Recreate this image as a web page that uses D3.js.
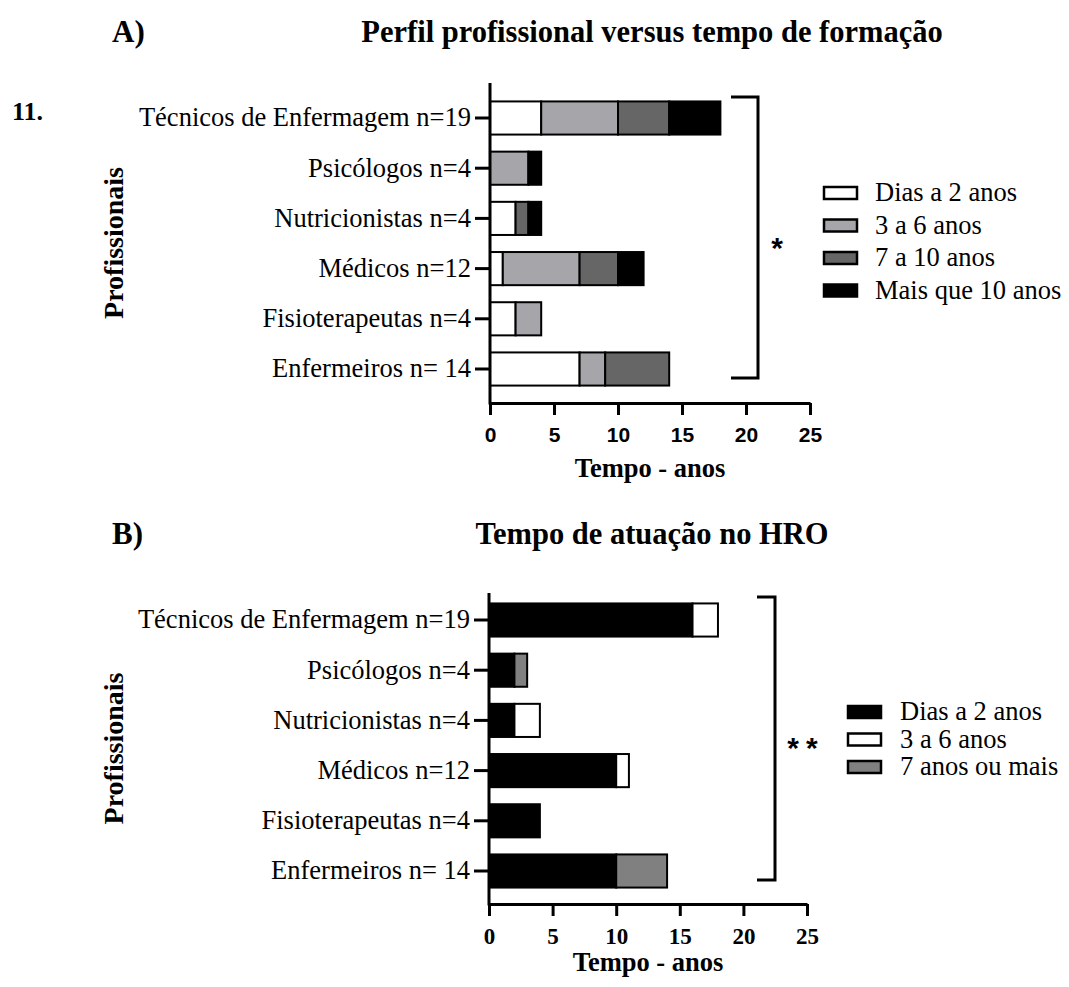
<!DOCTYPE html>
<html>
<head>
<meta charset="utf-8">
<script src="https://cdn.jsdelivr.net/npm/d3@7"></script>
<style>
  body { margin: 0; background: #fff; }
  text { fill: #000; }
</style>
</head>
<body>
<script>
  // categories (top to bottom)
  const categories = ["Técnicos de Enfermagem n=19", "Psicólogos n=4", "Nutricionistas n=4",
                      "Médicos n=12", "Fisioterapeutas n=4", "Enfermeiros n= 14"];
  const xTicks = [0, 5, 10, 15, 20, 25];

  // A) tempo de formação
  const formacaoKeys = ["Dias a 2 anos", "3 a 6 anos", "7 a 10 anos", "Mais que 10 anos"];
  const formacaoColors = ["#ffffff", "#a6a6aa", "#666666", "#000000"];
  const formacaoDias = [4, 0, 2, 1, 2, 7];
  const formacao3a6 = [6, 3, 0, 6, 2, 2];
  const formacao7a10 = [4, 0, 1, 3, 0, 5];
  const formacaoMais10 = [4, 1, 1, 2, 0, 0];

  // B) tempo de atuação no HRO
  const atuacaoKeys = ["Dias a 2 anos", "3 a 6 anos", "7 anos ou mais"];
  const atuacaoColors = ["#000000", "#ffffff", "#808080"];
  const atuacaoDias = [16, 2, 2, 10, 4, 10];
  const atuacao3a6 = [2, 0, 2, 1, 0, 0];
  const atuacao7 = [0, 1, 0, 0, 0, 4];

  const serif = "'Liberation Serif', 'Times New Roman', serif";
  const sans = "'Liberation Sans', Arial, sans-serif";

  const svg = d3.select('body').append('svg')
    .attr('width', 1069).attr('height', 987);

  function rows(keys, cols) {
    return categories.map((c, i) => {
      const r = {cat: c};
      keys.forEach((k, j) => r[k] = cols[j][i]);
      return r;
    });
  }

  function panel(p) {
    const g = svg.append('g');
    const x = d3.scaleLinear().domain([0, 25]).range([p.x0, p.x1]);
    const step = (p.cLast - p.cFirst) / (categories.length - 1);
    const y = d3.scaleBand().domain(categories)
      .range([p.cFirst - step / 2, p.cLast + step / 2])
      .paddingInner(0.34).paddingOuter(0.17);

    const stack = d3.stack().keys(p.keys)(rows(p.keys, p.cols));
    const color = d3.scaleOrdinal().domain(p.keys).range(p.colors);

    // bars
    g.selectAll('g.layer').data(stack).enter().append('g')
      .attr('class', 'layer')
      .attr('fill', d => color(d.key))
      .selectAll('rect').data(d => d.filter(s => s[1] > s[0])).enter().append('rect')
      .attr('x', d => x(d[0]))
      .attr('y', d => y(d.data.cat))
      .attr('width', d => x(d[1]) - x(d[0]))
      .attr('height', y.bandwidth())
      .attr('stroke', '#000')
      .attr('stroke-width', 2);

    // x axis
    const xa = g.append('g')
      .attr('transform', `translate(0,${p.axisY})`)
      .call(d3.axisBottom(x).tickValues(xTicks).tickSize(12).tickSizeOuter(0).tickPadding(12));
    xa.select('.domain').attr('stroke-width', 3);
    xa.selectAll('.tick line').attr('stroke-width', 3);
    xa.selectAll('.tick text')
      .style('font-family', p.tickFont).style('font-weight', 'bold')
      .style('font-size', p.tickSize + 'px');

    // y axis
    const ya = g.append('g')
      .attr('transform', `translate(${p.x0},0)`)
      .call(d3.axisLeft(y).tickSize(15).tickPadding(4));
    ya.select('.domain').remove();
    ya.selectAll('.tick line').attr('stroke-width', 3);
    ya.selectAll('.tick text')
      .style('font-family', serif).style('font-size', '26.5px');
    g.append('line')
      .attr('x1', p.x0).attr('x2', p.x0)
      .attr('y1', p.yTop).attr('y2', p.axisY + 1.5)
      .attr('stroke', '#000').attr('stroke-width', 3);

    // axis titles
    g.append('text')
      .attr('x', (p.x0 + p.x1) / 2).attr('y', p.axisY + p.xTitleDy)
      .attr('text-anchor', 'middle')
      .style('font-family', serif).style('font-weight', 'bold').style('font-size', '26.5px')
      .text('Tempo - anos');
    g.append('text')
      .attr('transform', `translate(123,${(p.yTop + p.axisY) / 2}) rotate(-90)`)
      .attr('text-anchor', 'middle')
      .style('font-family', serif).style('font-weight', 'bold').style('font-size', '28px')
      .text('Profissionais');

    // panel titles
    g.append('text')
      .attr('x', 112).attr('y', p.titleY)
      .style('font-family', serif).style('font-weight', 'bold').style('font-size', '31px')
      .text(p.letter);
    g.append('text')
      .attr('x', 652).attr('y', p.titleY)
      .attr('text-anchor', 'middle')
      .style('font-family', serif).style('font-weight', 'bold').style('font-size', '30.5px')
      .text(p.title);

    // significance bracket
    const b = p.bracket;
    g.append('path')
      .attr('d', `M${b.x0},${b.y0}H${b.x1}V${b.y1}H${b.x0}`)
      .attr('fill', 'none').attr('stroke', '#000').attr('stroke-width', 3);
    g.append('text')
      .attr('x', b.starX).attr('y', b.starY)
      .attr('text-anchor', 'middle')
      .style('font-family', sans).style('font-weight', 'bold').style('font-size', '30px')
      .style('letter-spacing', b.spacing + 'px')
      .text(b.star);

    // legend
    const lg = g.selectAll('g.leg').data(p.keys).enter().append('g')
      .attr('transform', (d, i) => `translate(${p.legX},${p.legY + i * p.legStep})`);
    lg.append('rect')
      .attr('x', 0).attr('y', -6).attr('width', 33).attr('height', 12)
      .attr('fill', d => color(d)).attr('stroke', '#000').attr('stroke-width', 2.5);
    lg.append('text')
      .attr('x', p.legTextX - p.legX).attr('y', 8)
      .style('font-family', serif).style('font-size', '26.5px')
      .text(d => d);
  }

  panel({
    letter: 'A)', title: 'Perfil profissional versus tempo de formação', titleY: 42,
    keys: formacaoKeys, colors: formacaoColors,
    cols: [formacaoDias, formacao3a6, formacao7a10, formacaoMais10],
    x0: 490, x1: 810, cFirst: 118, cLast: 369, yTop: 83, axisY: 403, xTitleDy: 74,
    tickFont: sans, tickSize: 21,
    bracket: {x0: 731, x1: 758, y0: 97, y1: 378, starX: 777, starY: 258, star: '*', spacing: 0},
    legX: 824, legY: 193, legStep: 32.5, legTextX: 875
  });

  panel({
    letter: 'B)', title: 'Tempo de atuação no HRO', titleY: 544,
    keys: atuacaoKeys, colors: atuacaoColors,
    cols: [atuacaoDias, atuacao3a6, atuacao7],
    x0: 489, x1: 807, cFirst: 620, cLast: 871, yTop: 593, axisY: 904, xTitleDy: 67,
    tickFont: serif, tickSize: 23,
    bracket: {x0: 757, x1: 775, y0: 597, y1: 880, starX: 806, starY: 758, star: '**', spacing: 7},
    legX: 848, legY: 712, legStep: 27.5, legTextX: 900
  });

  // figure number
  svg.append('text')
    .attr('x', 12).attr('y', 120)
    .style('font-family', serif).style('font-weight', 'bold').style('font-size', '26px')
    .text('11.');
</script>
</body>
</html>
